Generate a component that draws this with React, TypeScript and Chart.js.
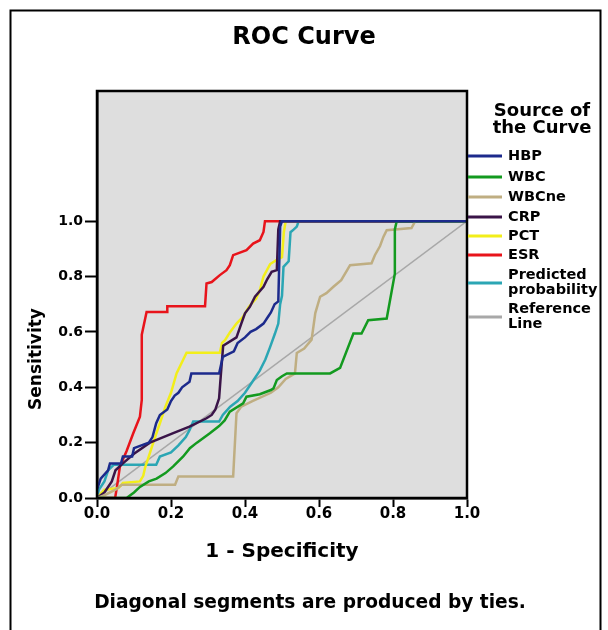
import React, { useEffect, useRef } from 'react';
import { Chart, registerables } from 'chart.js';

Chart.register(...registerables);

// ---------- data ----------
const TITLE = 'ROC Curve';
const X_TITLE = '1 - Specificity';
const Y_TITLE = 'Sensitivity';
const FOOTNOTE = 'Diagonal segments are produced by ties.';
const LEGEND_TITLE = ['Source of', 'the Curve'];

const X_TICKS = [0, 0.2, 0.4, 0.6, 0.8, 1.0];
const Y_TICKS = [0, 0.2, 0.4, 0.6, 0.8, 1.0];

const SERIES_NAMES = ['HBP', 'WBC', 'WBCne', 'CRP', 'PCT', 'ESR', 'Predicted probability', 'Reference Line'];
const LEGEND_LABELS = [['HBP'], ['WBC'], ['WBCne'], ['CRP'], ['PCT'], ['ESR'], ['Predicted', 'probability'], ['Reference', 'Line']];
const SERIES_COLORS = ['#1c2a8c', '#139a1f', '#bfae82', '#3a1448', '#f2ee1a', '#e8141b', '#2ba6b4', '#a8a8a8'];

const HBP_X = [0, 0, 0.01, 0.03, 0.035, 0.065, 0.07, 0.095, 0.1, 0.12, 0.14, 0.15, 0.16, 0.17, 0.19, 0.2, 0.21, 0.22, 0.23, 0.25, 0.255, 0.33, 0.34, 0.37, 0.38, 0.4, 0.415, 0.43, 0.45, 0.46, 0.47, 0.48, 0.49, 0.495, 0.5, 1];
const HBP_Y = [0, 0.03, 0.07, 0.1, 0.125, 0.125, 0.15, 0.15, 0.18, 0.19, 0.2, 0.22, 0.27, 0.3, 0.32, 0.35, 0.37, 0.38, 0.4, 0.42, 0.45, 0.45, 0.51, 0.53, 0.56, 0.58, 0.6, 0.61, 0.63, 0.65, 0.67, 0.7, 0.71, 0.98, 1, 1];

const WBC_X = [0, 0.08, 0.1, 0.116, 0.14, 0.161, 0.185, 0.206, 0.233, 0.251, 0.27, 0.305, 0.33, 0.345, 0.359, 0.395, 0.404, 0.44, 0.47, 0.477, 0.486, 0.5, 0.513, 0.63, 0.657, 0.693, 0.715, 0.733, 0.783, 0.805, 0.805, 0.81, 1];
const WBC_Y = [0, 0, 0.02, 0.04, 0.06, 0.07, 0.09, 0.114, 0.15, 0.18, 0.2, 0.234, 0.26, 0.28, 0.312, 0.342, 0.366, 0.375, 0.39, 0.396, 0.426, 0.44, 0.45, 0.45, 0.47, 0.594, 0.594, 0.642, 0.648, 0.81, 0.97, 1, 1];

const WBCNE_X = [0, 0.02, 0.05, 0.067, 0.211, 0.22, 0.368, 0.377, 0.39, 0.42, 0.47, 0.49, 0.51, 0.535, 0.54, 0.56, 0.58, 0.59, 0.603, 0.62, 0.639, 0.66, 0.684, 0.742, 0.751, 0.765, 0.774, 0.783, 0.85, 0.86, 1];
const WBCNE_Y = [0, 0.01, 0.03, 0.048, 0.048, 0.078, 0.078, 0.306, 0.33, 0.35, 0.38, 0.4, 0.43, 0.45, 0.524, 0.54, 0.572, 0.668, 0.727, 0.74, 0.763, 0.787, 0.841, 0.848, 0.877, 0.91, 0.943, 0.967, 0.975, 1, 1];

const CRP_X = [0, 0.02, 0.04, 0.05, 0.07, 0.1, 0.143, 0.206, 0.25, 0.296, 0.31, 0.32, 0.33, 0.335, 0.341, 0.377, 0.39, 0.4, 0.413, 0.427, 0.45, 0.46, 0.472, 0.486, 0.49, 0.495, 1];
const CRP_Y = [0, 0.02, 0.06, 0.1, 0.125, 0.16, 0.2, 0.234, 0.258, 0.288, 0.3, 0.32, 0.36, 0.45, 0.55, 0.58, 0.63, 0.667, 0.69, 0.727, 0.763, 0.79, 0.817, 0.823, 0.97, 1, 1];

const PCT_X = [0, 0.02, 0.058, 0.07, 0.116, 0.125, 0.13, 0.14, 0.157, 0.17, 0.185, 0.2, 0.215, 0.242, 0.332, 0.338, 0.346, 0.36, 0.377, 0.395, 0.41, 0.43, 0.44, 0.45, 0.468, 0.486, 0.5, 0.505, 0.51, 1];
const PCT_Y = [0, 0.03, 0.036, 0.054, 0.06, 0.08, 0.11, 0.15, 0.22, 0.27, 0.33, 0.38, 0.45, 0.525, 0.525, 0.56, 0.57, 0.6, 0.63, 0.655, 0.69, 0.72, 0.75, 0.8, 0.845, 0.86, 0.87, 0.96, 1, 1];

const ESR_X = [0, 0.049, 0.055, 0.062, 0.08, 0.098, 0.116, 0.121, 0.121, 0.134, 0.19, 0.19, 0.292, 0.296, 0.31, 0.332, 0.35, 0.359, 0.368, 0.404, 0.422, 0.44, 0.45, 0.454, 1];
const ESR_Y = [0, 0, 0.05, 0.114, 0.17, 0.234, 0.294, 0.354, 0.59, 0.672, 0.672, 0.693, 0.693, 0.775, 0.78, 0.805, 0.823, 0.841, 0.877, 0.895, 0.919, 0.931, 0.961, 1, 1];

const PRED_X = [0, 0.005, 0.02, 0.03, 0.045, 0.16, 0.17, 0.2, 0.22, 0.24, 0.25, 0.26, 0.33, 0.34, 0.36, 0.38, 0.4, 0.42, 0.44, 0.455, 0.468, 0.481, 0.49, 0.495, 0.5, 0.504, 0.518, 0.523, 0.532, 0.54, 0.545, 1];
const PRED_Y = [0, 0.03, 0.06, 0.1, 0.12, 0.12, 0.15, 0.165, 0.19, 0.22, 0.245, 0.276, 0.276, 0.3, 0.33, 0.35, 0.38, 0.42, 0.46, 0.5, 0.546, 0.594, 0.63, 0.7, 0.73, 0.835, 0.855, 0.96, 0.97, 0.98, 1, 1];

const REF_X = [0, 1];
const REF_Y = [0, 1];

const SERIES_X = [HBP_X, WBC_X, WBCNE_X, CRP_X, PCT_X, ESR_X, PRED_X, REF_X];
const SERIES_Y = [HBP_Y, WBC_Y, WBCNE_Y, CRP_Y, PCT_Y, ESR_Y, PRED_Y, REF_Y];

// ---------- style ----------
const FONT = "'DejaVu Sans', 'Liberation Sans', sans-serif";
const PLOT_BG = '#dedede';

const decorPlugin = {
  id: 'decor',
  beforeDraw(chart: any) {
    const { ctx, chartArea: a } = chart;
    ctx.save();
    ctx.fillStyle = '#ffffff';
    ctx.fillRect(0, 0, chart.width, chart.height);
    ctx.fillStyle = PLOT_BG;
    ctx.fillRect(a.left, a.top, a.right - a.left, a.bottom - a.top);
    ctx.restore();
  },
  afterDraw(chart: any) {
    const { ctx, chartArea: a } = chart;
    ctx.save();
    // plot frame
    ctx.strokeStyle = '#000';
    ctx.lineWidth = 2.5;
    ctx.strokeRect(a.left, a.top, a.right - a.left, a.bottom - a.top);
    // outer frame
    ctx.lineWidth = 2;
    ctx.beginPath();
    ctx.moveTo(10.5, 640);
    ctx.lineTo(10.5, 10.5);
    ctx.lineTo(600.5, 10.5);
    ctx.lineTo(600.5, 640);
    ctx.stroke();

    ctx.fillStyle = '#000';
    // y title
    ctx.save();
    ctx.translate(37, 359);
    ctx.rotate(-Math.PI / 2);
    ctx.font = `bold 17px ${FONT}`;
    ctx.textAlign = 'center';
    ctx.textBaseline = 'middle';
    ctx.fillText(Y_TITLE, 0, 0);
    ctx.restore();

    // legend title
    ctx.font = `bold 18px ${FONT}`;
    ctx.textAlign = 'center';
    ctx.textBaseline = 'middle';
    ctx.fillText(LEGEND_TITLE[0], 542, 111);
    ctx.fillText(LEGEND_TITLE[1], 542, 128);

    // legend items
    const itemY = [156, 177, 197, 217, 236, 255, 283, 317];
    ctx.font = `bold 14.5px ${FONT}`;
    ctx.textAlign = 'left';
    chart.data.datasets.forEach((ds: any, i: number) => {
      const y = itemY[i];
      ctx.strokeStyle = ds.borderColor;
      ctx.lineWidth = 3;
      ctx.beginPath();
      ctx.moveTo(a.right + 1, y);
      ctx.lineTo(502, y);
      ctx.stroke();
      const lines = LEGEND_LABELS[i];
      lines.forEach((t: string, j: number) => {
        const ty = y + (j - (lines.length - 1) / 2) * 15;
        ctx.fillText(t, 508, ty);
      });
    });

    // footnote
    ctx.font = `bold 18.6px ${FONT}`;
    ctx.textAlign = 'center';
    ctx.fillText(FOOTNOTE, 310, 603);
    ctx.restore();
  },
};

export default function App() {
  const ref = useRef<HTMLCanvasElement>(null);
  useEffect(() => {
    const datasets = SERIES_NAMES.map((name, i) => ({
      label: name,
      data: SERIES_X[i].map((x, k) => ({ x, y: SERIES_Y[i][k] })),
      borderColor: SERIES_COLORS[i],
      backgroundColor: SERIES_COLORS[i],
      borderWidth: i === 7 ? 1.5 : 2.5,
      pointRadius: 0,
      tension: 0,
      fill: false,
    }));
    const tickFont = (size: number) => ({ family: FONT, size, weight: 'bold' as const });
    const chart = new Chart(ref.current as HTMLCanvasElement, {
      type: 'line',
      data: { datasets },
      plugins: [decorPlugin],
      options: {
        responsive: false,
        animation: false,
        parsing: true,
        layout: { padding: { top: 10, left: 0, right: 0, bottom: 0 } },
        plugins: {
          legend: { display: false },
          tooltip: { enabled: false },
          title: {
            display: true,
            text: TITLE,
            color: '#000',
            font: { family: FONT, size: 24, weight: 'bold' },
            padding: { top: 13, bottom: 39.2 },
          },
        },
        scales: {
          x: {
            type: 'linear',
            position: 'bottom',
            min: 0,
            max: 1,
            afterBuildTicks: (s: any) => {
              s.ticks = X_TICKS.map((v) => ({ value: v }));
            },
            afterFit: (s: any) => {
              s.height = 132;
            },
            ticks: {
              callback: (v: any) => Number(v).toFixed(1),
              color: '#000',
              font: tickFont(15),
              padding: -2,
              maxRotation: 0,
              autoSkip: false,
            },
            grid: { display: true, drawOnChartArea: false, drawTicks: true, tickLength: 9, tickWidth: 2, tickColor: '#000' },
            border: { display: true, color: '#000', width: 2.5 },
            title: {
              display: true,
              text: X_TITLE,
              color: '#000',
              font: { family: FONT, size: 20, weight: 'bold' },
              padding: { top: 0, bottom: 66 },
            },
          },
          y: {
            type: 'linear',
            position: 'left',
            min: 0,
            max: 1.47,
            afterBuildTicks: (s: any) => {
              s.ticks = Y_TICKS.map((v) => ({ value: v }));
            },
            afterFit: (s: any) => {
              s.width = 97;
            },
            ticks: {
              callback: (v: any) => Number(v).toFixed(1),
              color: '#000',
              font: tickFont(14),
              padding: 2,
              autoSkip: false,
            },
            grid: { display: true, drawOnChartArea: false, drawTicks: true, tickLength: 12, tickWidth: 2, tickColor: '#000' },
            border: { display: true, color: '#000', width: 2.5 },
          },
          yR: {
            type: 'linear',
            position: 'right',
            min: 0,
            max: 1,
            grid: { display: false },
            border: { display: false },
            ticks: { display: false },
            afterFit: (s: any) => {
              s.width = 141;
            },
          },
        },
      },
    } as any);
    return () => chart.destroy();
  }, []);
  return (
    <div style={{ position: 'fixed', left: 0, top: 0, width: 608, height: 630, background: '#fff' }}>
      <canvas ref={ref} width={608} height={630} style={{ display: 'block' }} />
    </div>
  );
}
